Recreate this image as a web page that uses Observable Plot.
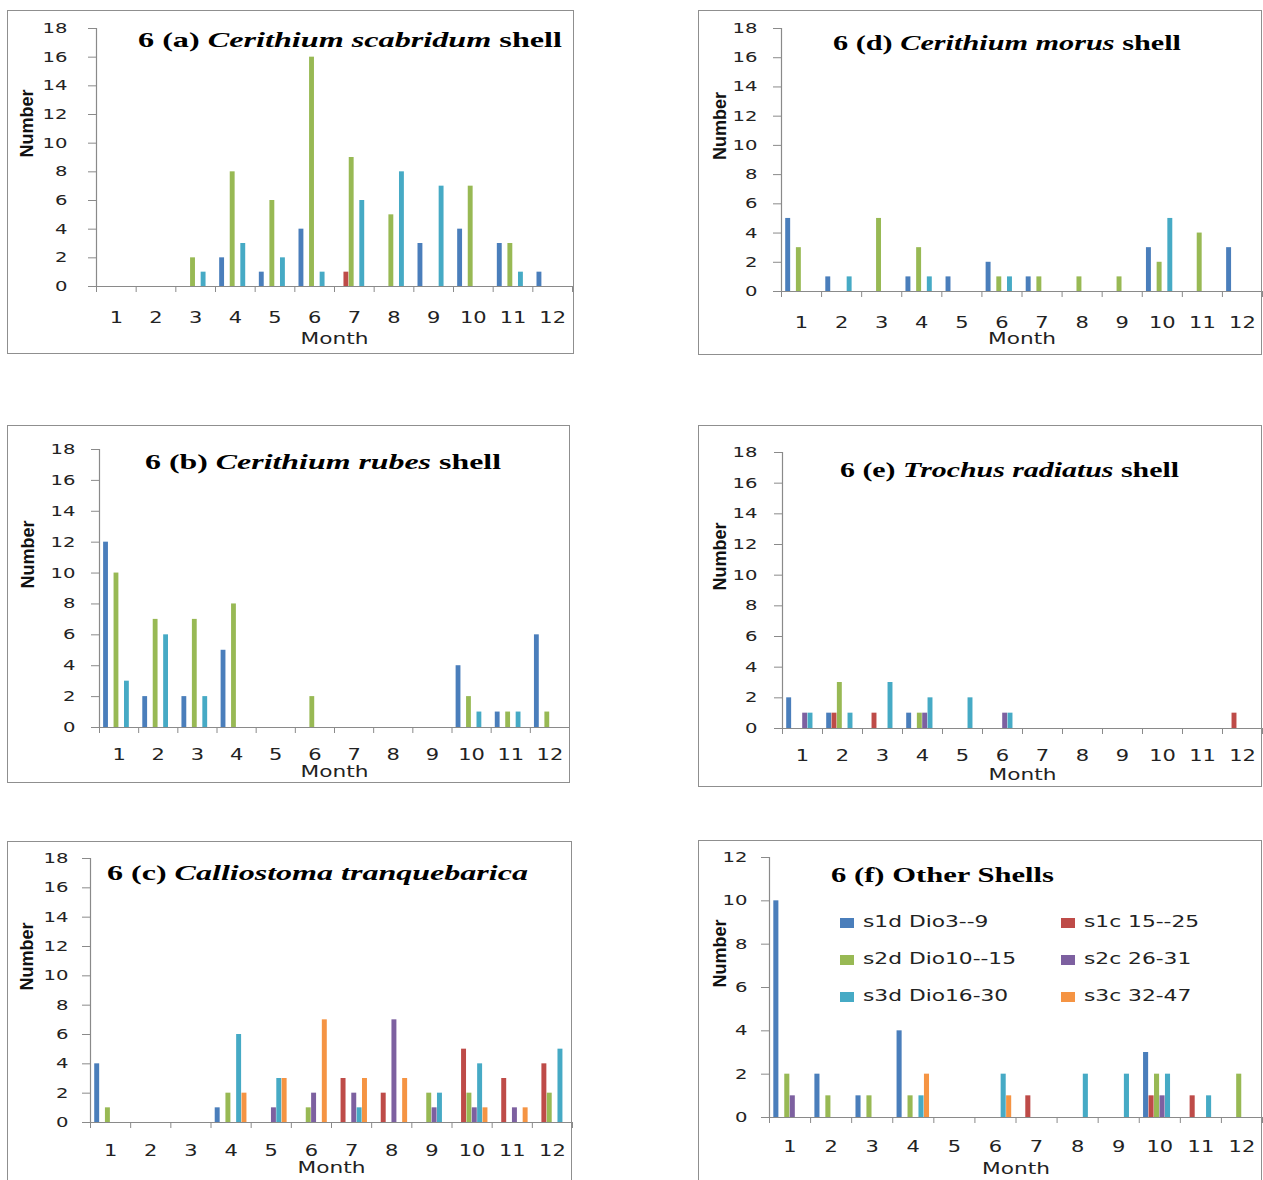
<!DOCTYPE html>
<html>
<head>
<meta charset="utf-8">
<script src="https://cdn.jsdelivr.net/npm/d3@7"></script>
<script src="https://cdn.jsdelivr.net/npm/@observablehq/plot@0.6"></script>
<style>
  html, body { margin: 0; padding: 0; background: #fff; }
  body { width: 1263px; height: 1180px; overflow: hidden; position: relative; font-family: "DejaVu Sans", sans-serif; }
  .box { position: absolute; border: 1.5px solid #8f8f8f; box-sizing: border-box; pointer-events: none; }
  .chart { position: absolute; }
  .title { position: absolute; white-space: nowrap; font-family: "Liberation Serif", serif; font-weight: bold; font-size: 22px; line-height: 1; color: #000; transform-origin: 0 50%; }
  .title i { font-style: italic; }
  .leg { position: absolute; white-space: nowrap; }
  .leg .lt { position: absolute; font-size: 15px; color: #222; transform-origin: 0 50%; line-height: 1; white-space: nowrap; }
</style>
</head>
<body>
<script>
// ---------------- data ----------------
const months = [1, 2, 3, 4, 5, 6, 7, 8, 9, 10, 11, 12];
const seriesNames = ["s1d Dio3--9", "s1c 15--25", "s2d Dio10--15", "s2c 26-31", "s3d Dio16-30", "s3c 32-47"];
const seriesColors = ["#4A7EBB", "#BE4B48", "#98B954", "#7D60A0", "#46AAC5", "#F59443"];

// rows follow seriesNames order, columns follow months
// 6 (a) Cerithium scabridum shell
const valuesA = [
  [0, 0, 0, 2, 1, 4, 0, 0, 3, 4, 3, 1],
  [0, 0, 0, 0, 0, 0, 1, 0, 0, 0, 0, 0],
  [0, 0, 2, 8, 6, 16, 9, 5, 0, 7, 3, 0],
  [0, 0, 0, 0, 0, 0, 0, 0, 0, 0, 0, 0],
  [0, 0, 1, 3, 2, 1, 6, 8, 7, 0, 1, 0],
  [0, 0, 0, 0, 0, 0, 0, 0, 0, 0, 0, 0]
];
// 6 (b) Cerithium rubes shell
const valuesB = [
  [12, 2, 2, 5, 0, 0, 0, 0, 0, 4, 1, 6],
  [0, 0, 0, 0, 0, 0, 0, 0, 0, 0, 0, 0],
  [10, 7, 7, 8, 0, 2, 0, 0, 0, 2, 1, 1],
  [0, 0, 0, 0, 0, 0, 0, 0, 0, 0, 0, 0],
  [3, 6, 2, 0, 0, 0, 0, 0, 0, 1, 1, 0],
  [0, 0, 0, 0, 0, 0, 0, 0, 0, 0, 0, 0]
];
// 6 (c) Calliostoma tranquebarica
const valuesC = [
  [4, 0, 0, 1, 0, 0, 0, 0, 0, 0, 0, 0],
  [0, 0, 0, 0, 0, 0, 3, 2, 0, 5, 3, 4],
  [1, 0, 0, 2, 0, 1, 0, 0, 2, 2, 0, 2],
  [0, 0, 0, 0, 1, 2, 2, 7, 1, 1, 1, 0],
  [0, 0, 0, 6, 3, 0, 1, 0, 2, 4, 0, 5],
  [0, 0, 0, 2, 3, 7, 3, 3, 0, 1, 1, 0]
];
// 6 (d) Cerithium morus shell
const valuesD = [
  [5, 1, 0, 1, 1, 2, 1, 0, 0, 3, 0, 3],
  [0, 0, 0, 0, 0, 0, 0, 0, 0, 0, 0, 0],
  [3, 0, 5, 3, 0, 1, 1, 1, 1, 2, 4, 0],
  [0, 0, 0, 0, 0, 0, 0, 0, 0, 0, 0, 0],
  [0, 1, 0, 1, 0, 1, 0, 0, 0, 5, 0, 0],
  [0, 0, 0, 0, 0, 0, 0, 0, 0, 0, 0, 0]
];
// 6 (e) Trochus radiatus shell
const valuesE = [
  [2, 1, 0, 1, 0, 0, 0, 0, 0, 0, 0, 0],
  [0, 1, 1, 0, 0, 0, 0, 0, 0, 0, 0, 1],
  [0, 3, 0, 1, 0, 0, 0, 0, 0, 0, 0, 0],
  [1, 0, 0, 1, 0, 1, 0, 0, 0, 0, 0, 0],
  [1, 1, 3, 2, 2, 1, 0, 0, 0, 0, 0, 0],
  [0, 0, 0, 0, 0, 0, 0, 0, 0, 0, 0, 0]
];
// 6 (f) Other Shells
const valuesF = [
  [10, 2, 1, 4, 0, 0, 0, 0, 0, 3, 0, 0],
  [0, 0, 0, 0, 0, 0, 1, 0, 0, 1, 1, 0],
  [2, 1, 1, 1, 0, 0, 0, 0, 0, 2, 0, 2],
  [1, 0, 0, 0, 0, 0, 0, 0, 0, 1, 0, 0],
  [0, 0, 0, 1, 0, 2, 0, 2, 2, 2, 1, 0],
  [0, 0, 0, 2, 0, 1, 0, 0, 0, 0, 0, 0]
];

const yTicks18 = [0, 2, 4, 6, 8, 10, 12, 14, 16, 18];
const yTicks12 = [0, 2, 4, 6, 8, 10, 12];

const titleA = ["6 (a) ", "Cerithium scabridum", " shell"];
const titleB = ["6 (b) ", "Cerithium rubes", " shell"];
const titleC = ["6 (c) ", "Calliostoma tranquebarica", ""];
const titleD = ["6 (d) ", "Cerithium morus", " shell"];
const titleE = ["6 (e) ", "Trochus radiatus", " shell"];
const titleF = ["6 (f) Other Shells", "", ""];
const xAxisLabel = "Month";
const yAxisLabel = "Number";

// ---------------- layout (page pixels) ----------------
const panels = [
  {values: valuesA, title: titleA, yTicks: yTicks18, box: [7, 10, 574, 354], px: [96, 572], py: [28, 286], yPad: 21, xPad: 26, numDx: -69, monDy: 57, t: [138, 40, 424]},
  {values: valuesD, title: titleD, yTicks: yTicks18, box: [698, 10, 1262, 355], px: [781, 1262], py: [28, 291], yPad: 16, xPad: 26, numDx: -61, monDy: 52, t: [833, 43, 348]},
  {values: valuesB, title: titleB, yTicks: yTicks18, box: [7, 425, 570, 783], px: [99, 569], py: [449, 727], yPad: 16, xPad: 22, numDx: -71, monDy: 49, t: [145, 462, 356]},
  {values: valuesE, title: titleE, yTicks: yTicks18, box: [698, 425, 1262, 787], px: [782, 1262], py: [452, 728], yPad: 17, xPad: 22, numDx: -62, monDy: 51, t: [840, 470, 339]},
  {values: valuesC, title: titleC, yTicks: yTicks18, box: [7, 841, 572, 1192], px: [90, 572], py: [858, 1122], yPad: 14, xPad: 23, numDx: -63, monDy: 50, t: [107, 873, 421]},
  {values: valuesF, title: titleF, yTicks: yTicks12, box: [698, 840, 1262, 1192], px: [769, 1262], py: [857, 1117], yPad: 14, xPad: 24, numDx: -49, monDy: 56, t: [831, 875, 223], legend: true}
];

const nS = seriesNames.length;
const slots = nS + 1.5; // Excel-like gap between month groups

function buildRows(values) {
  const rows = [];
  values.forEach((arr, i) => {
    arr.forEach((v, j) => {
      if (v > 0) {
        const x1 = months[j] - 0.5 + (0.75 + i) / slots;
        rows.push({month: months[j], series: seriesNames[i], value: v, x1, x2: x1 + 1 / slots});
      }
    });
  });
  return rows;
}

function stretchText(svg, sx) {
  svg.querySelectorAll("text").forEach(t => {
    if (t.textContent === yAxisLabel) return;
    const tr = t.getAttribute("transform") || "";
    t.setAttribute("transform", tr + ` scale(${sx},1)`);
  });
}

for (const p of panels) {
  const [L, T, R, B] = p.box;
  const W = R - L, H = B - T;
  const ymax = p.yTicks[p.yTicks.length - 1];
  const rows = buildRows(p.values);

  const chart = Plot.plot({
    width: W,
    height: H,
    marginLeft: p.px[0] - L,
    marginRight: R - p.px[1],
    marginTop: p.py[0] - T,
    marginBottom: B - p.py[1],
    x: {type: "linear", domain: [0.5, 12.5]},
    y: {domain: [0, ymax]},
    color: {domain: seriesNames, range: seriesColors},
    style: {background: "transparent", fontFamily: "DejaVu Sans", color: "#222", overflow: "visible"},
    marks: [
      Plot.rect(rows, {x1: "x1", x2: "x2", y1: () => 0, y2: "value", fill: "series", insetLeft: 0.2, insetRight: 0.2}),
      Plot.ruleY([0], {stroke: "#8a8a8a", strokeWidth: 1.2}),
      Plot.ruleX([0.5], {stroke: "#8a8a8a", strokeWidth: 1.2}),
      Plot.axisY(p.yTicks, {tickSize: 8, tickPadding: p.yPad, stroke: "#8a8a8a", fill: "#222", fontSize: 14, label: null}),
      Plot.axisX(d3.range(0.5, 12.6, 1), {tickSize: 6, tickFormat: () => "", stroke: "#8a8a8a", label: null}),
      Plot.axisX(months, {tickSize: 0, tickPadding: p.xPad, fill: "#222", fontSize: 15, label: null, tickFormat: d => String(d)}),
      Plot.text([xAxisLabel], {frameAnchor: "bottom", dy: p.monDy, fontSize: 15.5, fill: "#222"}),
      Plot.text([yAxisLabel], {frameAnchor: "left", rotate: -90, dx: p.numDx, fontSize: 18, fontWeight: "bold", fontFamily: "Liberation Sans", fill: "#111"})
    ]
  });
  stretchText(chart, 1.4);

  const holder = document.createElement("div");
  holder.className = "chart";
  holder.style.left = L + "px";
  holder.style.top = T + "px";
  holder.style.width = W + "px";
  holder.style.height = H + "px";
  holder.appendChild(chart);
  document.body.appendChild(holder);

  const box = document.createElement("div");
  box.className = "box";
  box.style.left = L + "px";
  box.style.top = T + "px";
  box.style.width = W + "px";
  box.style.height = H + "px";
  document.body.appendChild(box);

  // title
  const tt = document.createElement("div");
  tt.className = "title";
  const [pre, ital, post] = p.title;
  tt.appendChild(document.createTextNode(pre));
  if (ital) { const i = document.createElement("i"); i.textContent = ital; tt.appendChild(i); }
  if (post) tt.appendChild(document.createTextNode(post));
  document.body.appendChild(tt);
  const natW = tt.getBoundingClientRect().width;
  const natH = tt.getBoundingClientRect().height;
  tt.style.left = p.t[0] + "px";
  tt.style.top = (p.t[1] - natH / 2) + "px";
  tt.style.transform = `scaleX(${p.t[2] / natW})`;

  if (p.legend) {
    const colX = [840, 1061];
    const rowY = [923, 960, 997];
    seriesNames.forEach((name, i) => {
      const col = i % 2, row = Math.floor(i / 2);
      const sw = document.createElement("div");
      sw.style.position = "absolute";
      sw.style.left = colX[col] + "px";
      sw.style.top = (rowY[row] - 5) + "px";
      sw.style.width = "14px";
      sw.style.height = "10px";
      sw.style.background = seriesColors[i];
      document.body.appendChild(sw);
      const lt = document.createElement("div");
      lt.className = "leg";
      const s = document.createElement("span");
      s.className = "lt";
      s.textContent = name;
      lt.appendChild(s);
      lt.style.left = (colX[col] + 23) + "px";
      lt.style.top = rowY[row] + "px";
      s.style.top = "-8px";
      s.style.transform = "scaleX(1.45)";
      document.body.appendChild(lt);
    });
  }
}
</script>
</body>
</html>
